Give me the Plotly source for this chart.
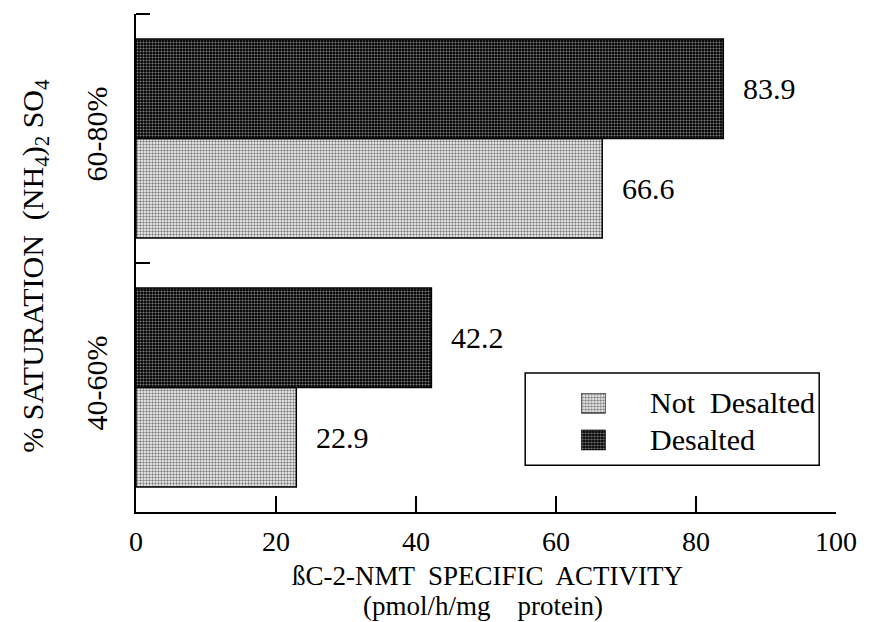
import plotly.graph_objects as go

# Ammonium sulfate fractions and measured specific activities
categories = ["40-60%", "60-80%"]
not_desalted = [22.9, 66.6]
desalted = [42.2, 83.9]
series_names = ["Not Desalted", "Desalted"]
x_ticks = [0, 20, 40, 60, 80, 100]

FONT = "Liberation Serif, Times New Roman, serif"
TXT = 30
ypos = list(range(len(categories)))

light_pattern = dict(shape=".", fgcolor="#000000", bgcolor="#ffffff", size=3, solidity=0.5)
dark_pattern = dict(shape=".", fgcolor="#ffffff", bgcolor="#000000", size=3, solidity=0.4)

fig = go.Figure()
fig.add_trace(go.Bar(
    name=series_names[0], orientation="h", x=not_desalted, y=ypos,
    marker=dict(color="#ffffff", pattern=light_pattern, line=dict(color="black", width=1.5)),
    showlegend=False,
))
fig.add_trace(go.Bar(
    name=series_names[1], orientation="h", x=desalted, y=ypos,
    marker=dict(color="#000000", pattern=dark_pattern, line=dict(color="black", width=1.5)),
    showlegend=False,
))

# legend swatches drawn on a small overlay subplot so they carry the same fill pattern
fig.add_trace(go.Bar(
    orientation="h", x=[1], y=[47], width=[20], base=[0],
    marker=dict(color="#ffffff", pattern=light_pattern, line=dict(color="black", width=1)),
    xaxis="x2", yaxis="y2", showlegend=False, hoverinfo="skip",
))
fig.add_trace(go.Bar(
    orientation="h", x=[1], y=[10], width=[20], base=[0],
    marker=dict(color="#000000", pattern=dark_pattern, line=dict(color="black", width=1)),
    xaxis="x2", yaxis="y2", showlegend=False, hoverinfo="skip",
))

annotations = []
# value labels at the end of each bar
for i, (nd, d) in enumerate(zip(not_desalted, desalted)):
    annotations.append(dict(x=nd, y=i - 0.2, xref="x", yref="y", text=f"{nd:.1f}",
                            xanchor="left", yanchor="middle", xshift=18, showarrow=False,
                            font=dict(family=FONT, size=TXT, color="black")))
    annotations.append(dict(x=d, y=i + 0.2, xref="x", yref="y", text=f"{d:.1f}",
                            xanchor="left", yanchor="middle", xshift=18, showarrow=False,
                            font=dict(family=FONT, size=TXT, color="black")))

# x-axis title (two lines)
annotations.append(dict(x=0.502, y=-0.0964, xref="paper", yref="paper",
                        text="ßC-2-NMT  SPECIFIC  ACTIVITY",
                        showarrow=False, xanchor="center", yanchor="top", borderpad=0,
                        font=dict(family=FONT, size=27, color="black")))
annotations.append(dict(x=0.496, y=-0.2199, xref="paper", yref="paper",
                        text="(pmol/h/mg    protein)",
                        showarrow=False, xanchor="center", yanchor="bottom", borderpad=0,
                        font=dict(family=FONT, size=27, color="black")))

# y-axis title
annotations.append(dict(x=-0.144, y=0.495, xref="paper", yref="paper",
                        text="% SATURATION  (NH<sub>4</sub>)<sub>2</sub> SO<sub>4</sub>",
                        textangle=-90, showarrow=False, xanchor="center", yanchor="middle",
                        font=dict(family=FONT, size=TXT, color="black")))

# legend labels
annotations.append(dict(x=0.731, y=0.219, xref="paper", yref="paper", text="Not  Desalted",
                        showarrow=False, xanchor="left", yanchor="middle",
                        font=dict(family=FONT, size=TXT, color="black")))
annotations.append(dict(x=0.731, y=0.145, xref="paper", yref="paper", text="Desalted",
                        showarrow=False, xanchor="left", yanchor="middle",
                        font=dict(family=FONT, size=TXT, color="black")))

fig.update_layout(
    width=869, height=622,
    margin=dict(l=136, r=30, t=14, b=110),
    paper_bgcolor="white", plot_bgcolor="rgba(0,0,0,0)",
    barmode="group", bargap=0.2, bargroupgap=0,
    font=dict(family=FONT, size=TXT, color="black"),
    annotations=annotations,
    shapes=[dict(type="rect", xref="paper", yref="paper", x0=0.556, x1=0.976, y0=0.094, y1=0.279,
                 line=dict(color="black", width=1.5), fillcolor="white", layer="below")],
    xaxis=dict(range=[0, 100], tickvals=x_ticks, ticks="inside", ticklen=16, tickwidth=1.5,
               tickcolor="black", showline=True, linecolor="black", linewidth=2,
               showgrid=False, zeroline=False, ticklabelstandoff=3,
               tickfont=dict(family=FONT, size=28, color="black")),
    yaxis=dict(range=[-0.5, 1.5], tickvals=ypos, ticktext=categories, ticks="",
               tickangle=-90, showline=True, linecolor="black", linewidth=2,
               showgrid=False, zeroline=False, ticklabelstandoff=15,
               tickfont=dict(family=FONT, size=TXT, color="black"),
               minor=dict(tickmode="array", tickvals=[0.5, 1.5], ticks="inside",
                          ticklen=14, tickwidth=1.5, tickcolor="black", showgrid=False)),
    xaxis2=dict(domain=[0.636, 0.671], range=[0, 1], visible=False, anchor="y2", fixedrange=True),
    yaxis2=dict(domain=[0.124, 0.239], range=[0, 57], visible=False, anchor="x2", fixedrange=True),
)

fig.write_html("out.html")
